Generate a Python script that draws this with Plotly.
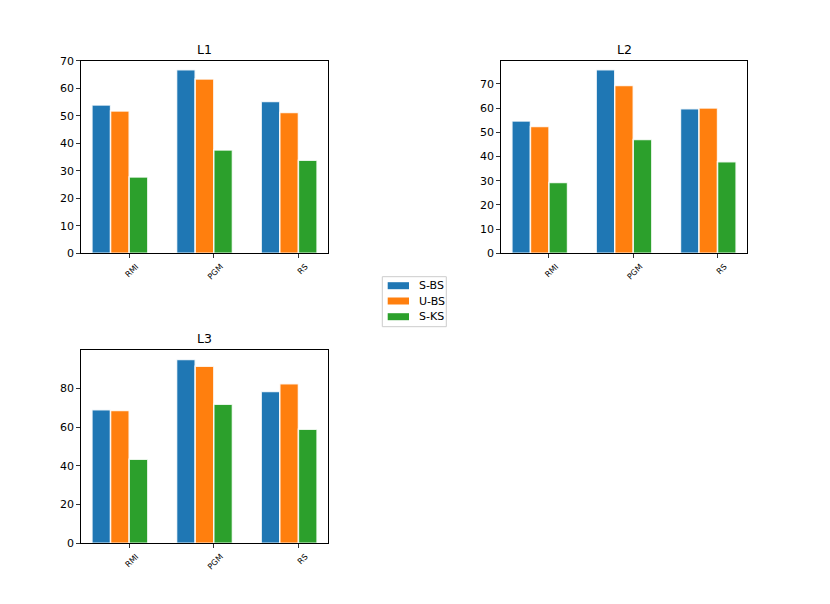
import plotly.graph_objects as go

categories = ["RMI", "PGM", "RS"]
series_names = ["S-BS", "U-BS", "S-KS"]
colors = ["#1f77b4", "#ff7f0e", "#2ca02c"]

L1_sbs = [53.9, 66.7, 55.2]
L1_ubs = [51.7, 63.4, 51.2]
L1_sks = [27.7, 37.6, 33.8]

L2_sbs = [54.7, 75.8, 59.7]
L2_ubs = [52.4, 69.3, 60.0]
L2_sks = [29.3, 47.0, 37.8]

L3_sbs = [69.0, 95.0, 78.5]
L3_ubs = [68.6, 91.5, 82.4]
L3_sks = [43.5, 71.9, 59.0]

panels = [
    ("L1", [L1_sbs, L1_ubs, L1_sks], [0, 10, 20, 30, 40, 50, 60, 70]),
    ("L2", [L2_sbs, L2_ubs, L2_sks], [0, 10, 20, 30, 40, 50, 60, 70]),
    ("L3", [L3_sbs, L3_ubs, L3_sks], [0, 20, 40, 60, 80]),
]

W, H = 830, 604
boxes = [(80.7, 328.3, 60.7, 253.3), (500.7, 747.3, 60.7, 253.3), (80.7, 328.3, 350.3, 543.3)]

bar_w = 0.22
offsets = [-2 * bar_w, -bar_w, 0.0]
xpos = list(range(len(categories)))

fig = go.Figure()
layout = dict(
    width=W, height=H, margin=dict(l=0, r=0, t=0, b=0, autoexpand=False),
    paper_bgcolor="white", plot_bgcolor="white",
    font=dict(family="DejaVu Sans", color="black", size=11),
    showlegend=False, barmode="overlay",
    annotations=[], shapes=[],
)

font_fam = "DejaVu Sans"
for p, (title, vals, yt) in enumerate(panels):
    sfx = "" if p == 0 else str(p + 1)
    l, r, t, b = boxes[p]
    for s in range(3):
        fig.add_trace(go.Bar(
            x=xpos, y=vals[s], name=series_names[s],
            width=bar_w, offset=offsets[s],
            marker=dict(color=colors[s], line=dict(color="rgba(255,255,255,0.85)", width=1.5)),
            xaxis="x" + sfx, yaxis="y" + sfx,
        ))
    ymax = max(max(v) for v in vals) * 1.05
    lo = offsets[0]
    hi = offsets[-1] + bar_w + (len(categories) - 1)
    span = hi - lo
    layout["xaxis" + sfx] = dict(
        domain=[l / W, r / W], anchor="y" + sfx, range=[lo - 0.05 * span, hi + 0.05 * span],
        tickmode="array", tickvals=xpos, ticktext=categories, tickangle=-45,
        tickfont=dict(size=8, family=font_fam), ticks="outside", ticklen=3.5, tickwidth=0.8,
        tickcolor="#333", showline=True, linecolor="black", linewidth=1, mirror=True,
        showgrid=False, zeroline=False, ticklabelshift=7, ticklabelstandoff=1, automargin=False,
    )
    layout["yaxis" + sfx] = dict(
        domain=[1 - b / H, 1 - t / H], anchor="x" + sfx, range=[0, ymax],
        tickmode="array", tickvals=yt, tickfont=dict(size=11, family=font_fam),
        ticks="outside", ticklen=3.5, tickwidth=0.8, tickcolor="#333",
        showline=True, linecolor="black", linewidth=1, mirror=True,
        showgrid=False, zeroline=False, automargin=False,
    )
    layout["annotations"].append(dict(
        text=title, x=(l + r) / 2 / W, y=1 - t / H, xref="paper", yref="paper",
        xanchor="center", yanchor="bottom", yshift=2, showarrow=False,
        font=dict(size=12.5, family=font_fam, color="black"),
    ))

lg_l, lg_r, lg_t, lg_b = 382.3, 446.3, 276.7, 326.7
layout["shapes"].append(dict(
    type="rect", xref="paper", yref="paper",
    x0=lg_l / W, x1=lg_r / W, y0=1 - lg_b / H, y1=1 - lg_t / H,
    line=dict(color="#cccccc", width=1), fillcolor="white",
))
rows = [285.7, 301.0, 316.7]
for s, yc in enumerate(rows):
    layout["shapes"].append(dict(
        type="rect", xref="paper", yref="paper",
        x0=387.7 / W, x1=409.0 / W, y0=1 - (yc + 3.5) / H, y1=1 - (yc - 3.5) / H,
        line=dict(width=0), fillcolor=colors[s],
    ))
    layout["annotations"].append(dict(
        text=series_names[s], x=417.0 / W, y=1 - yc / H, xref="paper", yref="paper",
        xanchor="left", yanchor="middle", showarrow=False,
        font=dict(size=11, family=font_fam, color="black"),
    ))

fig.update_layout(**layout)
fig.write_html(
    "out.html",
    config={"displayModeBar": False},
    post_script="document.body.style.margin='0';document.body.style.overflow='hidden';",
)
